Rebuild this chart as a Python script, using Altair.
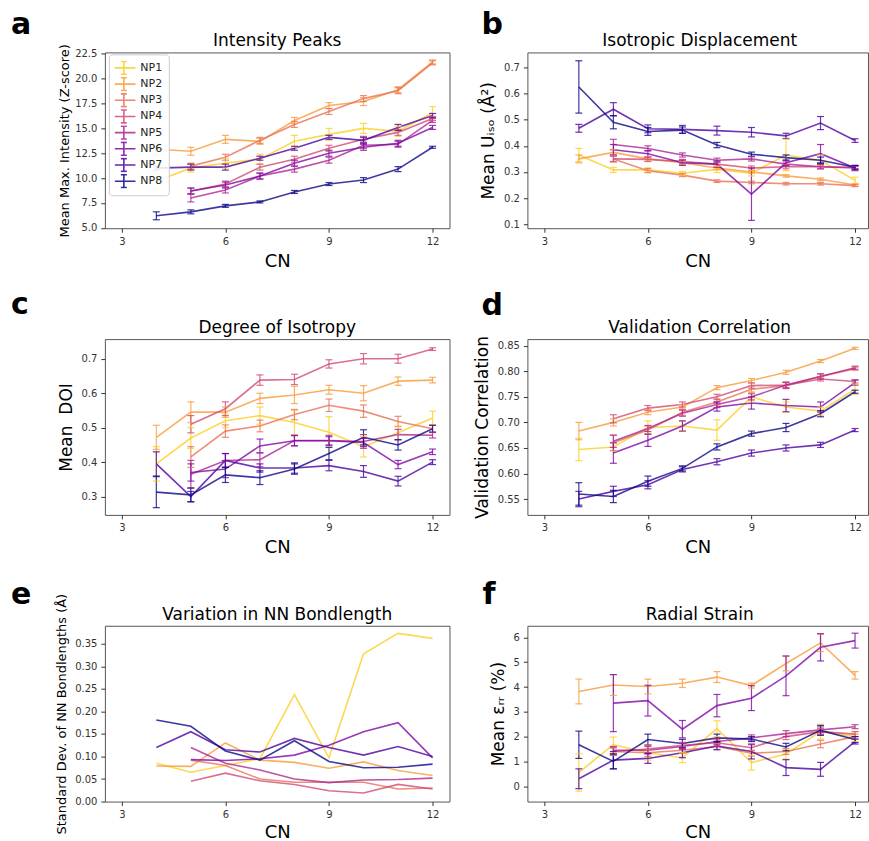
import altair as alt
import pandas as pd

N = None
CN = [4, 5, 6, 7, 8, 9, 10, 11, 12]
NPS = ["NP1", "NP2", "NP3", "NP4", "NP5", "NP6", "NP7", "NP8"]
COLORS = ["#fcce25", "#f99c3c", "#e87258", "#cf4b75", "#ac2693", "#7f07a6", "#4c02a1", "#0d0887"]

# ---- a: Intensity Peaks ----
A_MEAN = {
    "NP1": [9.7, 11.0, 11.5, 11.9, 13.7, 14.4, 15.0, 14.7, 16.6],
    "NP2": [12.9, 12.7, 13.9, 13.7, 15.8, 17.3, 17.7, 18.9, 21.7],
    "NP3": [N, 11.2, 12.1, 13.8, 15.4, 16.7, 18.0, 18.8, 21.6],
    "NP4": [N, 8.7, 9.4, 11.1, 11.9, 13.0, 13.9, 14.6, 16.0],
    "NP5": [N, 8.0, 8.8, 10.2, 10.9, 11.8, 13.3, 13.4, 15.8],
    "NP6": [N, 8.7, 9.3, 10.2, 11.5, 12.5, 13.1, 13.5, 15.1],
    "NP7": [11.0, 11.1, 11.1, 12.0, 13.0, 14.1, 13.8, 15.1, 16.3],
    "NP8": [6.2, 6.6, 7.2, 7.6, 8.6, 9.4, 9.8, 10.9, 13.1],
}
A_ERR = {
    "NP1": [0.8, 0.4, 0.5, 0.5, 0.6, 0.6, 0.5, 0.5, 0.6],
    "NP2": [0.6, 0.4, 0.4, 0.3, 0.3, 0.3, 0.4, 0.3, 0.2],
    "NP3": [N, 0.3, 0.3, 0.3, 0.3, 0.3, 0.3, 0.3, 0.2],
    "NP4": [N, 0.3, 0.3, 0.3, 0.3, 0.3, 0.3, 0.3, 0.2],
    "NP5": [N, 0.4, 0.3, 0.3, 0.3, 0.3, 0.3, 0.3, 0.2],
    "NP6": [N, 0.3, 0.3, 0.3, 0.3, 0.3, 0.3, 0.3, 0.2],
    "NP7": [0.2, 0.3, 0.3, 0.2, 0.2, 0.2, 0.3, 0.3, 0.2],
    "NP8": [0.4, 0.2, 0.15, 0.1, 0.15, 0.15, 0.25, 0.25, 0.1],
}

# ---- b: Isotropic Displacement ----
B_MEAN = {
    "NP1": [0.365, 0.308, 0.308, 0.295, 0.31, 0.295, 0.365, 0.345, 0.268],
    "NP2": [0.35, 0.375, 0.35, 0.335, 0.315, 0.30, 0.285, 0.272, 0.25],
    "NP3": [N, 0.35, 0.305, 0.288, 0.265, 0.26, 0.255, 0.255, 0.248],
    "NP4": [N, 0.35, 0.348, 0.34, 0.33, 0.315, 0.32, 0.32, 0.318],
    "NP5": [N, 0.405, 0.39, 0.365, 0.345, 0.35, 0.33, 0.32, 0.315],
    "NP6": [N, 0.385, 0.37, 0.335, 0.33, 0.215, 0.335, 0.37, 0.315],
    "NP7": [0.467, 0.54, 0.465, 0.463, 0.458, 0.452, 0.438, 0.487, 0.42],
    "NP8": [0.625, 0.49, 0.455, 0.46, 0.403, 0.368, 0.355, 0.345, 0.318],
}
B_ERR = {
    "NP1": [0.025, 0.01, 0.008, 0.007, 0.012, 0.01, 0.06, 0.02, 0.012],
    "NP2": [0.015, 0.01, 0.008, 0.006, 0.006, 0.005, 0.005, 0.005, 0.004],
    "NP3": [N, 0.012, 0.008, 0.006, 0.005, 0.005, 0.005, 0.005, 0.004],
    "NP4": [N, 0.01, 0.008, 0.008, 0.008, 0.008, 0.008, 0.008, 0.006],
    "NP5": [N, 0.02, 0.01, 0.008, 0.008, 0.008, 0.008, 0.008, 0.006],
    "NP6": [N, 0.02, 0.012, 0.01, 0.012, 0.1, 0.01, 0.035, 0.01],
    "NP7": [0.015, 0.025, 0.015, 0.015, 0.017, 0.018, 0.01, 0.025, 0.007],
    "NP8": [0.1, 0.025, 0.015, 0.012, 0.01, 0.008, 0.01, 0.012, 0.007],
}

# ---- c: Degree of Isotropy ----
C_MEAN = {
    "NP1": [0.395, 0.47, 0.52, 0.535, 0.515, 0.487, 0.445, 0.485, 0.528],
    "NP2": [0.472, 0.545, 0.545, 0.585, 0.595, 0.61, 0.60, 0.635, 0.638],
    "NP3": [N, 0.415, 0.49, 0.505, 0.538, 0.565, 0.548, 0.518, 0.497],
    "NP4": [N, 0.51, 0.555, 0.638, 0.64, 0.685, 0.70, 0.70, 0.728],
    "NP5": [N, 0.365, 0.405, 0.407, 0.463, 0.463, 0.46, 0.48, 0.478],
    "NP6": [N, 0.37, 0.38, 0.447, 0.462, 0.462, 0.457, 0.393, 0.43],
    "NP7": [0.395, 0.30, 0.405, 0.383, 0.383, 0.39, 0.373, 0.345, 0.40],
    "NP8": [0.313, 0.305, 0.363, 0.355, 0.38, 0.425, 0.472, 0.45, 0.497],
}
C_ERR = {
    "NP1": [0.05, 0.03, 0.02, 0.025, 0.035, 0.045, 0.03, 0.02, 0.02],
    "NP2": [0.035, 0.03, 0.015, 0.015, 0.025, 0.013, 0.022, 0.012, 0.008],
    "NP3": [N, 0.03, 0.018, 0.017, 0.015, 0.018, 0.018, 0.015, 0.01],
    "NP4": [N, 0.025, 0.02, 0.015, 0.015, 0.012, 0.015, 0.013, 0.004],
    "NP5": [N, 0.04, 0.02, 0.02, 0.015, 0.015, 0.02, 0.015, 0.008],
    "NP6": [N, 0.025, 0.025, 0.02, 0.015, 0.012, 0.012, 0.012, 0.008],
    "NP7": [0.035, 0.015, 0.02, 0.012, 0.015, 0.015, 0.017, 0.014, 0.007],
    "NP8": [0.045, 0.02, 0.022, 0.02, 0.015, 0.018, 0.022, 0.015, 0.01],
}

# ---- d: Validation Correlation ----
D_MEAN = {
    "NP1": [0.647, 0.652, 0.69, 0.693, 0.685, 0.75, 0.73, 0.722, 0.765],
    "NP2": [0.683, 0.70, 0.72, 0.73, 0.768, 0.782, 0.798, 0.82, 0.845],
    "NP3": [N, 0.66, 0.685, 0.72, 0.74, 0.765, 0.772, 0.79, 0.805],
    "NP4": [N, 0.707, 0.728, 0.735, 0.75, 0.772, 0.773, 0.785, 0.78],
    "NP5": [N, 0.663, 0.688, 0.718, 0.735, 0.75, 0.773, 0.79, 0.807],
    "NP6": [N, 0.64, 0.665, 0.693, 0.73, 0.738, 0.733, 0.73, 0.778],
    "NP7": [0.55, 0.565, 0.578, 0.608, 0.623, 0.64, 0.65, 0.656, 0.685],
    "NP8": [0.56, 0.555, 0.585, 0.61, 0.652, 0.678, 0.69, 0.717, 0.76],
}
D_ERR = {
    "NP1": [0.022, 0.008, 0.013, 0.01, 0.02, 0.01, 0.01, 0.008, 0.01],
    "NP2": [0.017, 0.007, 0.005, 0.005, 0.004, 0.004, 0.004, 0.003, 0.002],
    "NP3": [N, 0.015, 0.008, 0.006, 0.006, 0.006, 0.006, 0.005, 0.003],
    "NP4": [N, 0.008, 0.005, 0.005, 0.005, 0.005, 0.005, 0.004, 0.003],
    "NP5": [N, 0.012, 0.006, 0.006, 0.006, 0.006, 0.006, 0.005, 0.003],
    "NP6": [N, 0.02, 0.012, 0.01, 0.008, 0.012, 0.012, 0.01, 0.005],
    "NP7": [0.015, 0.01, 0.008, 0.005, 0.006, 0.006, 0.006, 0.005, 0.003],
    "NP8": [0.022, 0.012, 0.01, 0.005, 0.006, 0.005, 0.008, 0.006, 0.003],
}

# ---- e: Variation in NN Bondlength (no error bars) ----
E_MEAN = {
    "NP1": [0.085, 0.065, 0.08, 0.095, 0.237, 0.097, 0.328, 0.373, 0.362],
    "NP2": [0.079, 0.078, 0.13, 0.092, 0.087, 0.074, 0.088, 0.069, 0.058],
    "NP3": [N, 0.092, 0.08, 0.05, 0.043, 0.043, 0.043, 0.028, 0.03],
    "NP4": [N, 0.045, 0.063, 0.046, 0.038, 0.024, 0.019, 0.038, 0.028],
    "NP5": [N, 0.12, 0.085, 0.07, 0.05, 0.042, 0.048, 0.049, 0.052],
    "NP6": [N, 0.093, 0.091, 0.095, 0.103, 0.125, 0.155, 0.175, 0.097],
    "NP7": [0.12, 0.155, 0.115, 0.11, 0.14, 0.12, 0.103, 0.122, 0.10],
    "NP8": [0.181, 0.167, 0.112, 0.092, 0.135, 0.089, 0.075, 0.076, 0.083],
}

# ---- f: Radial Strain ----
F_MEAN = {
    "NP1": [0.55, 1.68, 1.35, 1.15, 2.32, 0.95, 1.3, 2.2, 2.0],
    "NP2": [3.82, 4.08, 4.02, 4.15, 4.4, 4.06, 4.95, 5.78, 4.47],
    "NP3": [N, 1.4, 1.35, 1.45, 1.6, 1.33, 1.4, 1.7, 2.0],
    "NP4": [N, 1.4, 1.5, 1.65, 1.75, 1.55, 2.0, 2.2, 2.1],
    "NP5": [N, 1.45, 1.45, 1.6, 1.8, 1.95, 2.12, 2.27, 2.4],
    "NP6": [N, 3.35, 3.45, 2.3, 3.25, 3.55, 4.45, 5.6, 5.87],
    "NP7": [0.3, 1.05, 1.12, 1.35, 1.62, 1.4, 0.75, 0.68, 1.8],
    "NP8": [1.67, 1.0, 1.88, 1.72, 1.95, 1.9, 1.58, 2.25, 1.88],
}
F_ERR = {
    "NP1": [0.75, 0.3, 0.3, 0.2, 0.32, 0.3, 0.2, 0.3, 0.2],
    "NP2": [0.5, 0.42, 0.3, 0.17, 0.22, 0.1, 0.3, 0.35, 0.15],
    "NP3": [N, 0.15, 0.15, 0.12, 0.12, 0.12, 0.12, 0.15, 0.1],
    "NP4": [N, 0.15, 0.15, 0.12, 0.12, 0.12, 0.12, 0.12, 0.1],
    "NP5": [N, 0.15, 0.15, 0.12, 0.12, 0.12, 0.12, 0.12, 0.08],
    "NP6": [N, 1.15, 0.62, 0.35, 0.45, 0.5, 0.8, 0.55, 0.3],
    "NP7": [0.4, 0.35, 0.2, 0.2, 0.15, 0.3, 0.32, 0.28, 0.1],
    "NP8": [0.55, 0.3, 0.22, 0.17, 0.15, 0.1, 0.15, 0.2, 0.12],
}

FONT = "DejaVu Sans"
X_TICKS = [3, 6, 9, 12]
# left column shows the full frame; the right column is cut at the page edge
W_LEFT, W_RIGHT, H = 345, 341, 176
X_DOMAIN_LEFT = [2.51, 12.49]
X_DOMAIN_RIGHT = [2.51, 12.375]


def to_frame(means, errs):
    rows = []
    for np_name in NPS:
        for i, c in enumerate(CN):
            m = means[np_name][i]
            if m is None:
                continue
            e = errs[np_name][i] if errs else 0.0
            rows.append({"CN": c, "NP": np_name, "mean": m, "lo": m - e, "hi": m + e})
    return pd.DataFrame(rows)


# error-bar glyph for the legend (symbol size 64 -> half-size 4 px)
ERRBAR_PATH = "M-2.9,0L2.9,0M0,-1.6L0,1.6M-0.75,-1.6L0.75,-1.6M-0.75,1.6L0.75,1.6"

LEGEND = alt.Legend(
    orient="none", legendX=4, legendY=2, title=None,
    symbolType=ERRBAR_PATH, symbolSize=64, symbolStrokeWidth=1.6,
    symbolOpacity=0.85, symbolOffset=3.5, clipHeight=15,
    labelFontSize=11, labelColor="#222", labelFont=FONT, labelOffset=11,
    padding=6, rowPadding=1.2,
    strokeColor="#cccccc", fillColor="#ffffffdd", cornerRadius=3,
)


def text_layer(txt, x, y, size, weight, align):
    return alt.Chart(pd.DataFrame({"t": [txt]})).mark_text(
        font=FONT, fontSize=size, fontWeight=weight, align=align,
        baseline="alphabetic", color="black"
    ).encode(x=alt.value(x), y=alt.value(y), text="t:N")


def panel(means, errs, title, ytitle, ydomain, yticks, yfmt, letter, lx, ly,
          width, xdomain, ytitle_size=17, ytitle_pad=6, xtitle_pad=6, legend=None):
    df = to_frame(means, errs)
    cscale = alt.Scale(domain=NPS, range=COLORS)
    color_line = alt.Color("NP:N", scale=cscale, legend=legend)
    color = alt.Color("NP:N", scale=cscale, legend=None)
    xaxis = alt.Axis(values=X_TICKS, format="d", title="CN", titlePadding=xtitle_pad)
    xenc = alt.X("CN:Q", scale=alt.Scale(domain=xdomain, nice=False, zero=False), axis=xaxis)
    yscale = alt.Scale(domain=ydomain, nice=False, zero=False)
    yaxis = alt.Axis(values=yticks, format=yfmt, title=ytitle,
                     titleFontSize=ytitle_size, titlePadding=ytitle_pad)
    base = alt.Chart(df)
    layers = [
        base.mark_line(strokeWidth=1.6, opacity=0.8).encode(
            x=xenc, y=alt.Y("mean:Q", scale=yscale, axis=yaxis), color=color_line)
    ]
    if errs is not None:
        layers.append(base.mark_rule(strokeWidth=1.2, opacity=0.8).encode(
            x=xenc, y=alt.Y("lo:Q", scale=yscale, axis=yaxis), y2="hi:Q", color=color))
        layers.append(base.mark_tick(orient="horizontal", size=7, thickness=1.2, opacity=0.8).encode(
            x=xenc, y=alt.Y("lo:Q", scale=yscale, axis=yaxis), color=color))
        layers.append(base.mark_tick(orient="horizontal", size=7, thickness=1.2, opacity=0.8).encode(
            x=xenc, y=alt.Y("hi:Q", scale=yscale, axis=yaxis), color=color))
    layers.append(text_layer(letter, lx, ly, 30, "bold", "left"))
    # title centred on the full (uncut) 345 px frame
    layers.append(text_layer(title, W_LEFT / 2, -6, 17, "normal", "center"))
    return alt.layer(*layers).properties(width=width, height=H)


pa = panel(A_MEAN, A_ERR, "Intensity Peaks", "Mean Max. Intensity (Z-score)",
           [4.95, 22.65], [5.0, 7.5, 10.0, 12.5, 15.0, 17.5, 20.0, 22.5], ".1f",
           "a", -94, -18, W_LEFT, X_DOMAIN_LEFT, ytitle_size=13, ytitle_pad=3, legend=LEGEND)
pb = panel(B_MEAN, B_ERR, "Isotropic Displacement", "Mean Uᵢₛₒ (Å²)",
           [0.085, 0.757], [0.1, 0.2, 0.3, 0.4, 0.5, 0.6, 0.7], ".1f",
           "b", -46, -18, W_RIGHT, X_DOMAIN_RIGHT)
pc = panel(C_MEAN, C_ERR, "Degree of Isotropy", "Mean\u00a0\u00a0DOI",
           [0.247, 0.757], [0.3, 0.4, 0.5, 0.6, 0.7], ".1f",
           "c", -94, -25, W_LEFT, X_DOMAIN_LEFT)
pd_ = panel(D_MEAN, D_ERR, "Validation Correlation", "Validation Correlation",
            [0.519, 0.863], [0.55, 0.60, 0.65, 0.70, 0.75, 0.80, 0.85], ".2f",
            "d", -46, -24, W_RIGHT, X_DOMAIN_RIGHT)
pe = panel(E_MEAN, None, "Variation in NN Bondlength", "Standard Dev. of NN Bondlengths (Å)",
           [0.0, 0.39], [0.0, 0.05, 0.10, 0.15, 0.20, 0.25, 0.30, 0.35], ".2f",
           "e", -94, -22, W_LEFT, X_DOMAIN_LEFT, ytitle_size=13, ytitle_pad=6, xtitle_pad=4)
pf = panel(F_MEAN, F_ERR, "Radial Strain", "Mean εᵣᵣ (%)",
           [-0.62, 6.47], [0, 1, 2, 3, 4, 5, 6], "d",
           "f", -45, -22, W_RIGHT, X_DOMAIN_RIGHT, xtitle_pad=4)

chart = alt.concat(
    pa, pb, pc, pd_, pe, pf, columns=2,
    spacing={"row": 111, "column": 78}, bounds="flush",
).resolve_scale(color="independent").properties(
    padding={"left": 10, "top": 9, "right": 0, "bottom": 0}
).configure(font=FONT).configure_view(
    stroke="#555555", strokeWidth=1
).configure_axis(
    labelFontSize=10, labelColor="#333333", labelFont=FONT,
    tickColor="#333333", tickSize=4, labelPadding=4,
    domain=False, grid=False,
    titleFont=FONT, titleFontWeight="normal", titleColor="black",
).configure_axisX(titleFontSize=18)

chart.save("out.html", embed_options={"renderer": "svg", "actions": False})
